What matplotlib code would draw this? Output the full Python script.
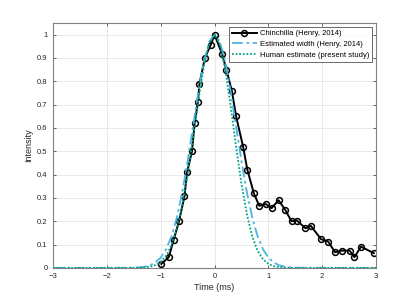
import numpy as np
import matplotlib
matplotlib.use("Agg")
import matplotlib.pyplot as plt

plt.rcParams['font.family'] = ['Liberation Sans', 'DejaVu Sans']

# chinchilla data (Henry, 2014)
chin_t = [-0.99, -0.85, -0.76, -0.66, -0.56, -0.51, -0.42, -0.37, -0.31, -0.28,
          -0.18, -0.07, 0.0, 0.14, 0.22, 0.32, 0.40, 0.53, 0.61, 0.73, 0.83,
          0.95, 1.06, 1.19, 1.31, 1.43, 1.53, 1.69, 1.79, 1.98, 2.11, 2.24,
          2.36, 2.51, 2.60, 2.72, 2.96]
chin_i = [0.017, 0.046, 0.12, 0.20, 0.306, 0.41, 0.50, 0.62, 0.71, 0.79,
          0.90, 0.956, 1.0, 0.917, 0.85, 0.76, 0.65, 0.52, 0.42, 0.32, 0.266,
          0.274, 0.256, 0.29, 0.25, 0.20, 0.203, 0.17, 0.18, 0.123, 0.113, 0.067,
          0.074, 0.074, 0.046, 0.091, 0.063]

# curve samples
curve_t = [-3.0, -1.6, -1.5, -1.4, -1.3, -1.2, -1.1, -1.0, -0.9, -0.8, -0.7, -0.6,
           -0.5, -0.4, -0.3, -0.2, -0.1, 0.0, 0.1, 0.2, 0.3, 0.4, 0.5, 0.6,
           0.7, 0.8, 0.9, 1.0, 1.1, 1.2, 1.3, 1.4, 1.5, 1.6, 3.0]
est_i = [0.0, 0.0003, 0.001, 0.002, 0.005, 0.011, 0.023, 0.044, 0.080, 0.135, 0.216, 0.325,
         0.458, 0.607, 0.755, 0.882, 0.969, 1.0, 0.969, 0.882, 0.755, 0.607, 0.458, 0.325,
         0.216, 0.135, 0.080, 0.044, 0.023, 0.011, 0.005, 0.002, 0.001, 0.0003, 0.0]
hum_i = [0.0, 0.0, 0.0001, 0.001, 0.002, 0.005, 0.012, 0.026, 0.052, 0.097, 0.167, 0.269,
         0.401, 0.557, 0.720, 0.864, 0.964, 1.0, 0.960, 0.849, 0.693, 0.520, 0.360, 0.230,
         0.135, 0.073, 0.037, 0.017, 0.007, 0.003, 0.001, 0.0, 0.0, 0.0, 0.0]

fig = plt.figure(figsize=(4.15, 3.02), dpi=100)
ax = fig.add_axes([0.128, 0.113, 0.778, 0.811])

ax.plot(chin_t, chin_i, color='black', lw=1.4, marker='o', ms=4.2,
        mfc='none', mew=1.1, label='Chinchilla (Henry, 2014)')
ax.plot(curve_t, est_i, color='#4DB3E6', lw=1.3, ls=(0, (6, 2, 1.5, 2)),
        label='Estimated width (Henry, 2014)')
ax.plot(curve_t, hum_i, color='#00A383', lw=1.3, ls=(0, (1, 1)),
        label='Human estimate (present study)')

ax.set_xlim(-3, 3)
ax.set_ylim(0, 1.05)
ax.set_xticks(np.arange(-3, 4, 1))
ax.set_yticks(np.arange(0, 1.01, 0.1))
ax.set_yticklabels(['0', '0.1', '0.2', '0.3', '0.4', '0.5', '0.6', '0.7', '0.8', '0.9', '1'])
ax.grid(True, color='#e6e6e6', lw=0.6)
ax.set_axisbelow(True)
ax.tick_params(direction='in', length=2.5, width=0.5, labelsize=5.5,
               colors='#262626', top=True, right=True, pad=4)
for s in ax.spines.values():
    s.set_color('#808080')
    s.set_linewidth(0.8)
ax.set_xlabel('Time (ms)', fontsize=6.5, color='#262626', labelpad=2)
ax.set_ylabel('Intensity', fontsize=6.5, color='#262626', labelpad=3)

leg = ax.legend(loc='upper right', fontsize=5.5, frameon=True, fancybox=False,
                edgecolor='#262626', borderaxespad=0.5, handlelength=3.2,
                labelspacing=0.45, borderpad=0.4, handletextpad=0.4)
leg.get_frame().set_linewidth(0.6)

fig.savefig('out.png', dpi=100)
